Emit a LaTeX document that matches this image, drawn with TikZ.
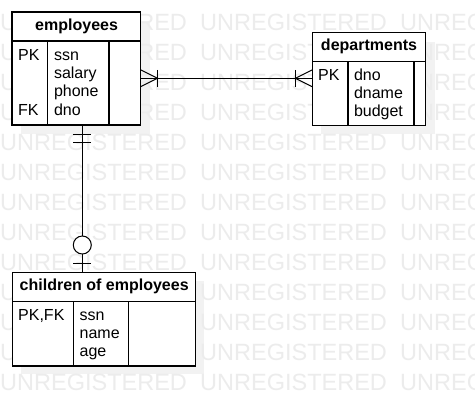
\documentclass[tikz,border=0pt]{standalone}
\usepackage{fontspec}
\setmainfont{Liberation Sans}
\usetikzlibrary{calc}
\definecolor{wm}{RGB}{236,236,236}
\definecolor{shd}{RGB}{242,242,242}
\begin{document}
\begin{tikzpicture}[x=1pt,y=-1pt,
  box/.style={draw=black, fill=white, line width=1.2pt, anchor=north west, inner sep=0pt, outer sep=0pt},
  sep/.style={draw=black, line width=1.2pt},
  hdr/.style={anchor=base, font=\fontsize{16}{18}\selectfont\bfseries, inner sep=0pt},
  fld/.style={anchor=base west, font=\fontsize{16}{18}\selectfont, inner sep=0pt},
  wmk/.style={anchor=base west, font=\fontsize{23.5}{24}\selectfont, text=wm, inner sep=0pt},
  conn/.style={draw=black, line width=1pt}]
\useasboundingbox (0,0) rectangle (475,416);
\fill[white] (0,0) rectangle (475,416);
% shadows
\fill[shd] (21,21) rectangle (149.5,133.5);
\fill[shd] (321.3,41.7) rectangle (434.5,134.2);
\fill[shd] (21.3,281) rectangle (204,374.3);
% watermark
\foreach \yy in {30,60,...,390}{
  \foreach \xx in {0,200,400}{
    \node[wmk] at (\xx,\yy) {UNREGISTERED};
  }
}
% employees
\node[box, minimum width=128.5pt, minimum height=113pt] (emp) at (12,12) {};
\draw[sep] (emp.west |- 0,41) -- (emp.east |- 0,41);
\draw[sep] (47.7,41) -- (emp.south west -| 47.7,0);
\draw[sep] (109,41) -- (emp.south west -| 109,0);
\node[hdr] (empT) at (76.6,30.7) {employees};
\node[fld] (empK1) at (18,60) {PK};
\node[fld] (empK2) at (18,115) {FK};
\node[fld] (empF1) at (53.8,60) {ssn};
\node[fld] (empF2) at (53.8,78.3) {salary};
\node[fld] (empF3) at (53.8,96.7) {phone};
\node[fld] (empF4) at (53.8,115) {dno};
% departments
\node[box, minimum width=113pt, minimum height=93pt] (dep) at (312.3,32.7) {};
\draw[sep] (dep.west |- 0,61.3) -- (dep.east |- 0,61.3);
\draw[sep] (348,61.3) -- (dep.south west -| 348,0);
\draw[sep] (414,61.3) -- (dep.south west -| 414,0);
\node[hdr] (depT) at (369,50.7) {departments};
\node[fld] (depK1) at (318,80) {PK};
\node[fld] (depF1) at (353.8,80) {dno};
\node[fld] (depF2) at (353.8,98.3) {dname};
\node[fld] (depF3) at (353.8,116.7) {budget};
% children
\node[box, minimum width=183pt, minimum height=93.5pt] (ch) at (12.3,272.5) {};
\draw[sep] (ch.west |- 0,301.3) -- (ch.east |- 0,301.3);
\draw[sep] (73.7,301.3) -- (ch.south west -| 73.7,0);
\draw[sep] (128.7,301.3) -- (ch.south west -| 128.7,0);
\node[hdr] (chT) at (104.2,290.7) {children of employees};
\node[fld] (chK1) at (18,320) {PK,FK};
\node[fld] (chF1) at (79.5,320) {ssn};
\node[fld] (chF2) at (79.5,338.3) {name};
\node[fld] (chF3) at (79.5,356.7) {age};
% employees -- departments (one or many at both ends)
\coordinate (hA) at (emp.east |- 0,78.3);
\coordinate (hB) at (dep.west |- 0,78.3);
\draw[conn] (hA) -- (hB);
\draw[conn] ($(hA)+(0,-8.5)$) -- ($(hA)+(17,0)$) -- ($(hA)+(0,8.5)$);
\draw[conn] ($(hA)+(17,-8.5)$) -- ($(hA)+(17,8.5)$);
\draw[conn] ($(hB)+(0,-8.5)$) -- ($(hB)+(-17,0)$) -- ($(hB)+(0,8.5)$);
\draw[conn] ($(hB)+(-17,-8.5)$) -- ($(hB)+(-17,8.5)$);
% employees -- children (mandatory one / zero or one)
\coordinate (vA) at (emp.south -| 82.3,0);
\coordinate (vB) at (ch.north -| 82.3,0);
\draw[conn] (vA) -- (vB);
\draw[conn] ($(vA)+(-9,9)$) -- ($(vA)+(9,9)$);
\draw[conn] ($(vA)+(-9,17.5)$) -- ($(vA)+(9,17.5)$);
\draw[conn] ($(vB)+(-9,-9)$) -- ($(vB)+(9,-9)$);
\draw[conn, fill=white] ($(vB)+(0,-27.5)$) circle[radius=9];
\end{tikzpicture}
\end{document}
